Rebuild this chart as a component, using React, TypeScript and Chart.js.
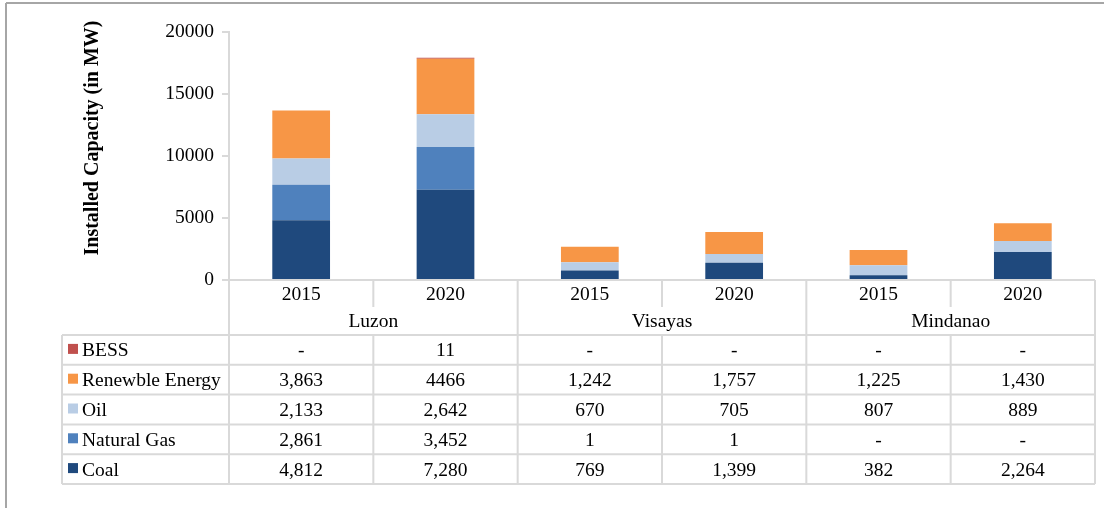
import { useEffect, useRef } from 'react';
import { Chart, registerables } from 'chart.js';

Chart.register(...registerables);

// ---- data ----
const years = ['2015', '2020', '2015', '2020', '2015', '2020'];
const regions = ['Luzon', 'Visayas', 'Mindanao'];

const coal = [4812, 7280, 769, 1399, 382, 2264];
const naturalGas = [2861, 3452, 1, 1, null, null];
const oil = [2133, 2642, 670, 705, 807, 889];
const renewable = [3863, 4466, 1242, 1757, 1225, 1430];
const bess = [null, 11, null, null, null, null];

// table text as printed in the source
const bessText = ['-', '11', '-', '-', '-', '-'];
const renewableText = ['3,863', '4466', '1,242', '1,757', '1,225', '1,430'];
const oilText = ['2,133', '2,642', '670', '705', '807', '889'];
const gasText = ['2,861', '3,452', '1', '1', '-', '-'];
const coalText = ['4,812', '7,280', '769', '1,399', '382', '2,264'];

const yMax = 20000;
const yStep = 5000;
const yTitle = 'Installed Capacity (in MW)';

const COLORS = {
  coal: '#1F497D',
  gas: '#4F81BD',
  oil: '#B9CDE5',
  renewable: '#F79646',
  bess: '#C0504D',
};

const FONT = '"Liberation Serif", "Times New Roman", serif';
const GRID = '#D9D9D9';
const FS = 19.5;

const tableRows = [
  { label: 'BESS', color: COLORS.bess, text: bessText },
  { label: 'Renewble Energy', color: COLORS.renewable, text: renewableText },
  { label: 'Oil', color: COLORS.oil, text: oilText },
  { label: 'Natural Gas', color: COLORS.gas, text: gasText },
  { label: 'Coal', color: COLORS.coal, text: coalText },
];

const tablePlugin = {
  id: 'dataTable',
  afterDraw(chart: any) {
    const { ctx, chartArea: ca, scales } = chart;
    const xs = scales.x;
    const n = years.length;
    const colW = (ca.right - ca.left) / n;
    const bnd = (i: number) => ca.left + i * colW;
    const yearTop = ca.bottom;
    const yearBot = ca.bottom + 27;
    const regBot = ca.bottom + 55;
    const rowH = 29.8;
    const tableBot = regBot + tableRows.length * rowH;
    const legendLeft = 62;

    ctx.save();
    // frame
    ctx.strokeStyle = '#A6A6A6';
    ctx.lineWidth = 2;
    ctx.beginPath();
    ctx.moveTo(6, 3);
    ctx.lineTo(chart.width, 3);
    ctx.moveTo(6, 3);
    ctx.lineTo(6, chart.height);
    ctx.stroke();

    // grid lines of the table
    ctx.strokeStyle = GRID;
    ctx.lineWidth = 2;
    ctx.beginPath();
    ctx.moveTo(ca.left, yearTop);
    ctx.lineTo(ca.right, yearTop);
    for (let r = 0; r <= tableRows.length; r++) {
      const y = regBot + r * rowH;
      ctx.moveTo(legendLeft, y);
      ctx.lineTo(ca.right, y);
    }
    ctx.moveTo(ca.left, yearTop);
    ctx.lineTo(ca.left, tableBot);
    ctx.moveTo(ca.right, yearTop);
    ctx.lineTo(ca.right, tableBot);
    ctx.moveTo(legendLeft, regBot);
    ctx.lineTo(legendLeft, tableBot);
    for (let i = 1; i < n; i++) {
      const x = bnd(i);
      if (i % 2 === 0) {
        ctx.moveTo(x, yearTop);
        ctx.lineTo(x, tableBot);
      } else {
        ctx.moveTo(x, yearTop);
        ctx.lineTo(x, yearBot);
        ctx.moveTo(x, regBot);
        ctx.lineTo(x, tableBot);
      }
    }
    ctx.stroke();

    // text
    ctx.fillStyle = '#000';
    ctx.font = `${FS}px ${FONT}`;
    ctx.textBaseline = 'alphabetic';
    ctx.textAlign = 'center';
    years.forEach((y, i) => {
      ctx.fillText(y, xs.getPixelForValue(i), yearTop + 20);
    });
    regions.forEach((r, k) => {
      const cx = (bnd(2 * k) + bnd(2 * k + 2)) / 2;
      ctx.fillText(r, cx, yearBot + 20);
    });
    tableRows.forEach((row, r) => {
      const cy = regBot + r * rowH + rowH / 2;
      ctx.textAlign = 'center';
      row.text.forEach((t, i) => {
        ctx.fillText(t, xs.getPixelForValue(i), cy + 6.5);
      });
      ctx.fillStyle = row.color;
      ctx.fillRect(68, cy - 6, 10, 10);
      ctx.fillStyle = '#000';
      ctx.textAlign = 'left';
      ctx.fillText(row.label, 82, cy + 6.5);
    });

    // y axis title
    ctx.translate(93, 138);
    ctx.rotate(-Math.PI / 2);
    ctx.font = `bold 20px ${FONT}`;
    ctx.textAlign = 'center';
    ctx.textBaseline = 'middle';
    ctx.fillText(yTitle, 0, 0);
    ctx.restore();
  },
};

export default function App() {
  const ref = useRef<HTMLCanvasElement | null>(null);

  useEffect(() => {
    if (!ref.current) return;
    const chart = new Chart(ref.current, {
      type: 'bar',
      data: {
        labels: years.map((y, i) => `${regions[Math.floor(i / 2)]} ${y}`),
        datasets: [
          { label: 'Coal', data: coal, backgroundColor: COLORS.coal },
          { label: 'Natural Gas', data: naturalGas, backgroundColor: COLORS.gas },
          { label: 'Oil', data: oil, backgroundColor: COLORS.oil },
          { label: 'Renewble Energy', data: renewable, backgroundColor: COLORS.renewable },
          { label: 'BESS', data: bess, backgroundColor: COLORS.bess, minBarLength: 1 },
        ] as any,
      },
      options: {
        animation: false,
        responsive: false,
        devicePixelRatio: 1,
        layout: { padding: { left: 0, right: 9, top: 32, bottom: 228 } },
        datasets: { bar: { categoryPercentage: 1, barPercentage: 0.4, borderWidth: 0 } },
        plugins: { legend: { display: false }, tooltip: { enabled: false } },
        scales: {
          x: { stacked: true, display: false },
          y: {
            stacked: true,
            min: 0,
            max: yMax,
            ticks: {
              stepSize: yStep,
              color: '#000',
              padding: 8,
              font: { family: FONT, size: FS },
              callback: (v: any) => String(v),
            },
            grid: {
              drawOnChartArea: false,
              drawTicks: true,
              tickLength: 7,
              color: GRID,
              lineWidth: 2,
            },
            border: { display: true, color: GRID, width: 2 },
            afterFit: (scale: any) => {
              scale.width = 229;
            },
          },
        },
      },
      plugins: [tablePlugin],
    });
    return () => chart.destroy();
  }, []);

  return (
    <div style={{ position: 'fixed', top: 0, left: 0, width: 1104, height: 508, background: '#fff' }}>
      <canvas ref={ref} width={1104} height={508} style={{ display: 'block' }} />
    </div>
  );
}
